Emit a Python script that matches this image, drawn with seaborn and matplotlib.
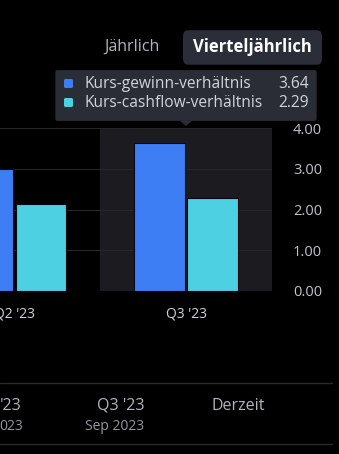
import matplotlib
matplotlib.use("Agg")
import matplotlib.pyplot as plt
import seaborn as sns
import pandas as pd
from matplotlib.patches import FancyBboxPatch, Polygon

quarters = ["Q2 '23", "Q3 '23"]
metrics = ["Kurs-gewinn-verhältnis", "Kurs-cashflow-verhältnis"]
pe_values = [3.00, 3.64]
pcf_values = [2.13, 2.29]
y_ticks = [0, 1, 2, 3, 4]
colors = ["#3d7ef5", "#4dd0e1"]

W, H = 339, 454
sns.set_theme(style="dark")
plt.rcParams['font.family'] = ['Open Sans', 'DejaVu Sans']

df = pd.DataFrame({
    "quarter": quarters * 2,
    "metric": [metrics[0]] * 2 + [metrics[1]] * 2,
    "value": pe_values + pcf_values,
})

fig = plt.figure(figsize=(W / 100, H / 100), dpi=100, facecolor="black")

def fx(x):
    return x / W

def fy(y):
    return 1 - y / H

ax = fig.add_axes([0, fy(291), fx(272), (291 - 128) / H])
ax.set_facecolor("black")
ax.axvspan(0.5, 1.5, color="#1c1c20", zorder=0)
for t in y_ticks[1:]:
    ax.axhline(t, color="#262626", lw=0.8, zorder=0.5)

sns.barplot(data=df, x="quarter", y="value", hue="metric", palette=colors,
            width=0.62, gap=0.05, ax=ax, legend=False, zorder=2,
            edgecolor="#0a0a14", linewidth=0.8, saturation=1)

ax.set_xlim(-0.0845, 1.501)
ax.set_ylim(0, 4)
ax.set_yticks(y_ticks)
ax.set_yticklabels([f"{v:.2f}" for v in y_ticks])
ax.yaxis.tick_right()
ax.tick_params(axis="y", colors="#c0c3ca", labelsize=10.5, pad=15, length=0)
ax.tick_params(axis="x", colors="#d1d4dc", labelsize=10, pad=11, length=0)
ax.set_xlabel("")
ax.set_ylabel("")
ax.grid(False)
for s in ax.spines.values():
    s.set_visible(False)

# Top toggle
fig.text(fx(132), fy(47), "Jährlich", color="#b2b5be", fontsize=11.5,
         ha="center", va="center")
btn = FancyBboxPatch((fx(185), fy(62)), fx(135), (62 - 33) / H,
                     boxstyle="round,pad=0.006,rounding_size=0.014",
                     transform=fig.transFigure, facecolor="#2a2e39",
                     edgecolor="none")
fig.patches.append(btn)
fig.text(fx(252), fy(47), "Vierteljährlich", color="white", fontsize=12,
         fontweight="bold", ha="center", va="center")

# Tooltip
tip = FancyBboxPatch((fx(56), fy(120)), fx(260), (120 - 71) / H,
                     boxstyle="round,pad=0.002,rounding_size=0.006",
                     transform=fig.transFigure, facecolor="#2a2d36",
                     edgecolor="none", zorder=5)
fig.patches.append(tip)
tri = Polygon([(fx(180), fy(121)), (fx(192), fy(121)), (fx(186), fy(126))],
              closed=True, transform=fig.transFigure, facecolor="#2a2d36",
              edgecolor="none", zorder=5)
fig.patches.append(tri)
vals = [pe_values[1], pcf_values[1]]
for i, (m, c, v) in enumerate(zip(metrics, colors, vals)):
    yy = 84 + i * 19
    sq = FancyBboxPatch((fx(64), fy(yy + 4)), fx(9), 9 / H,
                        boxstyle="round,pad=0,rounding_size=0.004",
                        transform=fig.transFigure, facecolor=c,
                        edgecolor="none", zorder=6)
    fig.patches.append(sq)
    fig.text(fx(84), fy(yy), m, color="#d1d4dc", fontsize=11.2,
             ha="left", va="center", zorder=7)
    fig.text(fx(309), fy(yy), f"{v:.2f}", color="#d1d4dc", fontsize=11.2,
             ha="right", va="center", zorder=7)

# Bottom timeline
for yy in (383, 444):
    fig.add_artist(plt.Line2D([0, fx(332)], [fy(yy), fy(yy)],
                              transform=fig.transFigure, color="#2a2a2a", lw=1))
fig.text(fx(11), fy(406), "'23", color="#b2b5be", fontsize=11.5,
         ha="center", va="center")
fig.text(fx(11), fy(427), "023", color="#9598a1", fontsize=10,
         ha="center", va="center")
fig.text(fx(121), fy(406), "Q3 '23", color="#b2b5be", fontsize=11.5,
         ha="center", va="center")
fig.text(fx(115), fy(427), "Sep 2023", color="#9598a1", fontsize=10,
         ha="center", va="center")
fig.text(fx(238), fy(406), "Derzeit", color="#b2b5be", fontsize=11.5,
         ha="center", va="center")

fig.savefig("out.png", dpi=100, facecolor="black")
